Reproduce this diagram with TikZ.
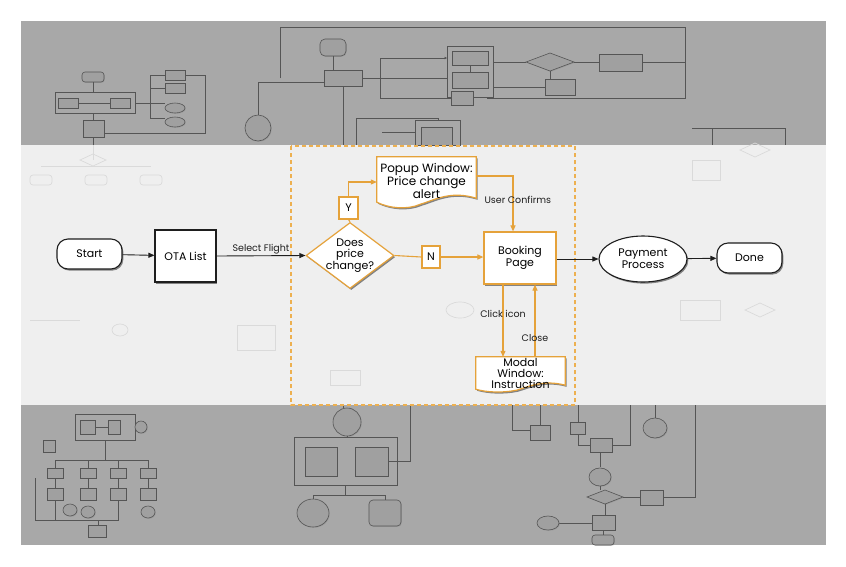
\documentclass[tikz,border=0pt]{standalone}
\usepackage{fontspec}
\setmainfont{Poppins}
\usetikzlibrary{shapes.geometric,shadows,arrows.meta,calc}
\definecolor{orng}{HTML}{E5A23A}
\definecolor{dashor}{HTML}{EDB050}
\definecolor{bgdark}{HTML}{A8A8A8}
\definecolor{bglight}{HTML}{EFEFEF}
\definecolor{bgln}{HTML}{555555}
\definecolor{bgfill}{HTML}{A0A0A0}
\definecolor{faint}{HTML}{DADADA}
\definecolor{ink}{HTML}{1E1E1E}
\pgfdeclarelayer{bglayer}
\pgfdeclarelayer{shapelayer}
\pgfsetlayers{bglayer,shapelayer,main}
\tikzset{
  shad/.style={drop shadow={shadow xshift=1.3pt,shadow yshift=-1.6pt,fill=black,opacity=0.45}},
  blackbox/.style={draw=ink,line width=1.1pt,fill=white,shad,align=center,font=\fontsize{11}{12}\selectfont},
  termbox/.style={blackbox,rounded corners=11pt},
  orbox/.style={draw=orng,line width=1.2pt,fill=white,shad,align=center,font=\fontsize{11}{12}\selectfont},
  yn/.style={draw=orng,line width=1.1pt,fill=white,inner sep=0pt,font=\fontsize{11}{12}\selectfont},
  doctext/.style={draw=none,align=center,inner sep=0pt,font=\fontsize{11}{11.2}\selectfont},
  docshape/.style={draw=orng,line width=1.2pt,fill=white,shad},
  blk/.style={draw=ink,line width=0.9pt,-{Triangle[length=6pt,width=5pt]}},
  ora/.style={draw=orng,line width=1.1pt,-{Triangle[length=6pt,width=5pt]}},
  orl/.style={draw=orng,line width=1.1pt},
  lbl/.style={font=\fontsize{9.5}{10}\selectfont,text=ink,inner sep=1pt},
  bgb/.style={draw=bgln,line width=0.6pt,fill=bgfill,drop shadow={shadow xshift=0.8pt,shadow yshift=-0.8pt,opacity=0.35}},
  bgl/.style={draw=bgln,line width=0.6pt},
  fb/.style={draw=faint,line width=0.7pt},
}
\begin{document}
\begin{tikzpicture}[x=1pt,y=-1pt]
\useasboundingbox (0,0) rectangle (846,566);
\begin{pgfonlayer}{bglayer}
\fill[white] (0,0) rectangle (846,566);
\fill[bgdark] (21,21) rectangle (826,545);
\fill[bglight] (21,145) rectangle (826,405);
% --- faded background sketch, top band ---
\draw[bgl] (280,78) -- (280,27) -- (685,27) -- (685,98) -- (487,98);
\draw[bgl] (362,78) -- (380,78);
\draw[bgl] (380,58) -- (380,98);
\draw[bgl,-{Triangle[length=2.5pt,width=2.5pt]}] (380,58) -- (447,58);
\draw[bgl] (380,78) -- (447,78);
\draw[bgl] (380,98) -- (451,98);
\draw[bgb,fill=bgdark] (447,46) rectangle (493,97);
\draw[bgb] (452,51) rectangle (488,65);
\draw[bgb] (452,72) rectangle (488,88);
\draw[bgl] (470,65) -- (470,72);
\draw[bgl] (493,62) -- (526,62);
\draw[bgb] (526,62) -- (550,53) -- (574,62) -- (550,71) -- cycle;
\draw[bgl] (574,62) -- (599,62);
\draw[bgb] (599,54) rectangle (642,71);
\draw[bgl] (642,62) -- (685,62);
\draw[bgl] (550,71) -- (550,80);
\draw[bgb] (545,79) rectangle (575,95);
\draw[bgl] (545,87) -- (493,87);
\draw[bgb] (451,91) rectangle (473,105);
\draw[bgb,rounded corners=5pt] (320,39) rectangle (346,56);
\draw[bgl] (333,56) -- (333,70);
\draw[bgb] (324,70) rectangle (362,86);
\draw[bgl] (343,86) -- (343,145);
\draw[bgl] (324,82) -- (258,82) -- (258,115);
\draw[bgb] (258,128) circle (13);
\draw[bgl] (356,118) -- (356,145);
\draw[bgl] (356,118) -- (438,118) -- (438,145);
\draw[bgb,fill=bgdark] (415,120) rectangle (460,145);
\draw[bgb] (421,127) rectangle (452,145);
\draw[bgl] (382,132) -- (415,132);
\draw[bgb,rounded corners=3pt] (82,72) rectangle (104,82);
\draw[bgl] (93,82) -- (93,92);
\draw[bgb,fill=bgdark] (55,92) rectangle (135,113);
\draw[bgb] (58,98) rectangle (78,108);
\draw[bgb] (110,98) rectangle (130,108);
\draw[bgl] (78,103) -- (110,103);
\draw[bgl] (135,103) -- (150,103) -- (150,75) -- (165,75);
\draw[bgl] (150,88) -- (165,88);
\draw[bgl] (150,103) -- (165,103);
\draw[bgl] (150,103) -- (150,118) -- (165,118);
\draw[bgb] (165,70) rectangle (185,80);
\draw[bgb] (165,83) rectangle (185,93);
\draw[bgb] (175,108) ellipse (10 and 5);
\draw[bgb] (175,122) ellipse (10 and 5);
\draw[bgl] (185,75) -- (205,75) -- (205,133) -- (105,133);
\draw[bgl] (93,113) -- (93,120);
\draw[bgb] (83,120) rectangle (104,137);
\draw[bgl] (93,137) -- (93,145);
\draw[bgl] (692,128) -- (785,128) -- (785,145);
\draw[bgl] (712,128) -- (712,145);
% --- faded background sketch, light band ---
\draw[fb] (93,145) -- (93,160);
\draw[fb] (80,160) -- (93,154) -- (106,160) -- (93,166) -- cycle;
\draw[fb,rounded corners=3pt] (30,175) rectangle (52,185);
\draw[fb,rounded corners=3pt] (85,175) rectangle (107,185);
\draw[fb,rounded corners=3pt] (140,175) rectangle (162,185);
\draw[fb] (41,166) -- (151,166);
\draw[fb] (237,325) rectangle (275,350);
\draw[fb] (330,370) rectangle (360,385);
\draw[fb] (460,310) ellipse (14 and 8);
\draw[fb] (692,160) rectangle (720,180);
\draw[fb] (740,150) -- (755,143) -- (770,150) -- (755,157) -- cycle;
\draw[fb] (680,300) rectangle (720,320);
\draw[fb] (745,310) -- (760,303) -- (775,310) -- (760,317) -- cycle;
\draw[fb] (30,320) -- (80,320);
\draw[fb] (120,330) ellipse (8 and 6);
% --- faded background sketch, bottom band ---
\draw[bgb,fill=bgdark] (75,414) rectangle (135,440);
\draw[bgb] (80,420) rectangle (95,434);
\draw[bgb] (108,420) rectangle (120,434);
\draw[bgl] (95,427) -- (108,427);
\draw[bgb] (141,427) circle (6);
\draw[bgb] (43,440) rectangle (55,452);
\draw[bgl] (105,440) -- (105,460);
\draw[bgl] (55,460) -- (148,460);
\foreach \xx in {55,88,118,148}{
  \draw[bgl] (\xx,460) -- (\xx,468);
  \draw[bgb] ($(\xx,468)+(-8,0)$) rectangle ($(\xx,478)+(8,0)$);
  \draw[bgb] ($(\xx,488)+(-8,0)$) rectangle ($(\xx,500)+(8,0)$);
  \draw[bgl] (\xx,478) -- (\xx,488);
}
\draw[bgb] (70,510) ellipse (7 and 6);
\draw[bgb] (88,512) ellipse (7 and 6);
\draw[bgb] (148,512) ellipse (7 and 6);
\draw[bgl] (35,478) -- (35,520) -- (118,520) -- (118,500);
\draw[bgl] (55,500) -- (55,520);
\draw[bgb] (88,525) rectangle (106,537);
\draw[bgl] (98,520) -- (98,525);
\draw[bgl] (343,405) -- (343,408);
\draw[bgb] (347,422) circle (14);
\draw[bgl] (347,436) -- (347,440);
\draw[bgb,fill=bgdark] (294,437) rectangle (397,485);
\draw[bgb] (305,447) rectangle (337,476);
\draw[bgb] (355,447) rectangle (388,476);
\draw[bgl] (388,461) -- (410,461) -- (410,405);
\draw[bgl] (345,485) -- (345,495) -- (313,495) -- (313,499);
\draw[bgl] (345,495) -- (385,495) -- (385,500);
\draw[bgb] (313,513) ellipse (16 and 14);
\draw[bgb,rounded corners=4pt] (369,500) rectangle (401,526);
\draw[bgl] (512,405) -- (512,430) -- (530,430);
\draw[bgb] (530,425) rectangle (550,440);
\draw[bgl] (540,405) -- (540,425);
\draw[bgb] (570,422) rectangle (585,434);
\draw[bgl] (578,405) -- (578,422);
\draw[bgb] (655,428) ellipse (12 and 10);
\draw[bgl] (655,405) -- (655,418);
\draw[bgl] (578,434) -- (578,445) -- (590,445);
\draw[bgb] (590,438) rectangle (612,452);
\draw[bgl] (612,445) -- (630,445) -- (630,405);
\draw[bgl] (600,452) -- (600,467);
\draw[bgb] (600,477) ellipse (11 and 9);
\draw[bgl] (600,486) -- (600,490);
\draw[bgb] (587,497) -- (605,490) -- (623,497) -- (605,504) -- cycle;
\draw[bgl] (623,497) -- (640,497);
\draw[bgb] (640,490) rectangle (663,505);
\draw[bgl] (663,497) -- (695,497) -- (695,405);
\draw[bgl] (605,504) -- (605,515);
\draw[bgb] (592,515) rectangle (615,530);
\draw[bgl] (592,523) -- (558,523);
\draw[bgb] (548,523) ellipse (11 and 7);
\draw[bgl] (603,530) -- (603,535);
\draw[bgb,rounded corners=3pt] (592,535) rectangle (614,545);
\end{pgfonlayer}

% dashed frame
\draw[dashor,line width=1.5pt,dash pattern=on 4pt off 3pt] (291,146) rectangle (575,405);

% main nodes
\node[termbox,minimum width=65pt,minimum height=30pt] (start) at (89.5,254) {Start};
\node[blackbox,minimum width=61pt,minimum height=52pt] (ota) at (185.5,256) {OTA List};
\node[draw=orng,line width=1.2pt,fill=white,shad,shape=diamond,aspect=1.33,inner sep=-4pt,
      minimum width=88pt,minimum height=66pt,align=center,font=\fontsize{11}{11.6}\selectfont] (dec) at (350,255.5) {Does\\price\\change?};
\node[yn,minimum width=19pt,minimum height=22pt] (y) at (348.5,208) {Y};
\node[yn,minimum width=18pt,minimum height=22pt] (n) at (431,257) {N};
\node[orbox,minimum width=72pt,minimum height=52pt] (book) at (520,258) {Booking\\Page};
\node[blackbox,shape=ellipse,minimum width=88pt,minimum height=46pt,inner sep=0pt] (pay) at (643,259) {Payment\\Process};
\node[termbox,minimum width=65pt,minimum height=30pt] (done) at (749.5,258) {Done};

% document shapes
\node[doctext,font=\fontsize{12}{11.6}\selectfont,minimum width=99pt,minimum height=48pt] (popup) at (426.5,181) {Popup Window:\\Price change\\alert};
\node[doctext,minimum width=89pt,minimum height=33pt] (modal) at (520.5,373.5) {Modal\\Window:\\Instruction};
\begin{pgfonlayer}{shapelayer}
\filldraw[docshape] (popup.north west) -- (popup.north east) -- ($(popup.south east)+(0,-7)$)
  .. controls ($(popup.south east)+(-26,-15)$) and ($(popup.south east)+(-42,-5)$) .. ($(popup.south)+(-6,-1)$)
  .. controls ($(popup.south west)+(30,5)$) and ($(popup.south west)+(12,3)$) .. ($(popup.south west)+(0,-3)$) -- cycle;
\filldraw[docshape] (modal.north west) -- (modal.north east) -- ($(modal.south east)+(0,-5)$)
  .. controls ($(modal.south east)+(-22,-11)$) and ($(modal.south east)+(-38,-3)$) .. ($(modal.south)+(-4,0)$)
  .. controls ($(modal.south west)+(26,3)$) and ($(modal.south west)+(10,2)$) .. ($(modal.south west)+(0,-1)$) -- cycle;
\end{pgfonlayer}

% connectors
\draw[blk] (start) -- (ota);
\draw[blk] (ota.east) -- node[lbl,above] {Select Flight} (dec.west);
\draw[orl] (dec.north) -- (y.south);
\draw[ora] (y.north) |- (popup.west |- 0,182);
\draw[ora] (popup.east |- 0,176) -| (513,0 |- book.north) node[lbl,pos=0.72,right,xshift=-30pt] {User Confirms};
\draw[orl] (dec.east) -- (n.west);
\draw[ora] (n.east) -- (book.west |- n.east);
\draw[blk] (book.east |- pay.west) -- (pay.west);
\draw[blk] (pay) -- (done);
\coordinate (cl1) at (503,0 |- book.south);
\coordinate (cl2) at (503,0 |- modal.north);
\coordinate (co1) at (535,0 |- modal.north);
\coordinate (co2) at (535,0 |- book.south);
\draw[ora] (cl1) -- node[lbl,pos=0.4] {Click icon} (cl2);
\draw[ora] (co1) -- node[lbl,pos=0.26] {Close} (co2);
\end{tikzpicture}
\end{document}
